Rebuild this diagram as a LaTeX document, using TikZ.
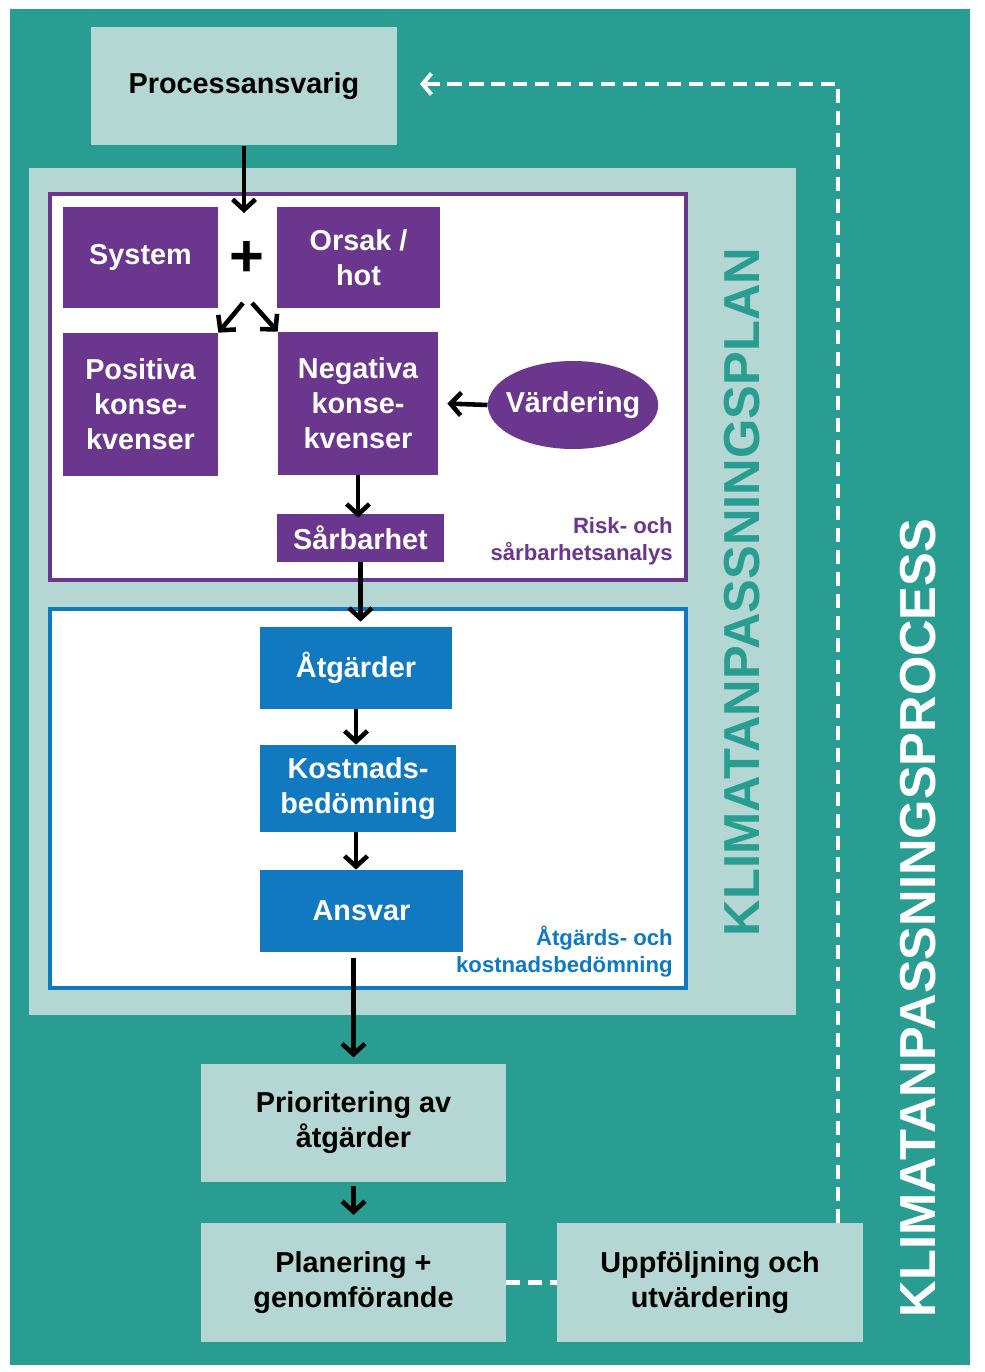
\documentclass[tikz,border=0pt]{standalone}
\usepackage{fontspec}
\setmainfont{Liberation Sans}
\usetikzlibrary{arrows.meta,shapes.geometric,positioning}
\definecolor{tealD}{RGB}{41,157,145}
\definecolor{tealL}{RGB}{180,215,212}
\definecolor{lila}{RGB}{107,54,141}
\definecolor{blaa}{RGB}{16,121,191}

\begin{document}
\begin{tikzpicture}[x=0.02cm, y=-0.02cm,
  every node/.style={align=center, inner sep=0pt, font=\fontsize{16.4pt}{20pt}\selectfont\bfseries},
  lightbox/.style={fill=tealL, text=black, minimum width=6.1cm, minimum height=2.37cm},
  lilabox/.style={fill=lila, text=white},
  blabox/.style={fill=blaa, text=white},
  note/.style={align=right, anchor=east, font=\fontsize{12.6pt}{15.4pt}\selectfont\bfseries},
  bigtitle/.style={rotate=90, font=\fontsize{28.8pt}{30pt}\selectfont\bfseries},
  flow/.style={line width=2.6pt, -{Straight Barb[length=6pt,width=13pt]}},
  loopline/.style={white, line width=2.3pt, dash pattern=on 8pt off 4.5pt}]
\useasboundingbox (0,0) rectangle (984,1372);
\fill[tealD] (10,9) rectangle (970,1365);
\fill[tealL] (29,168) rectangle (796,1015);
\draw[lila, line width=2.3pt, fill=white] (50,194) rectangle (686,580);
\draw[blaa, line width=2.3pt, fill=white] (50,609) rectangle (686,988);

\node[lightbox, minimum width=6.12cm] (proc) at (244,86) {Processansvarig};

\node[lilabox, minimum width=3.1cm, minimum height=2.02cm] (sys) at (140.5,257.5) {System};
\node[lilabox, minimum width=3.26cm, minimum height=2.02cm] (orsak) at (358.5,257.5) {Orsak /\\hot};
\node[font=\fontsize{34pt}{36pt}\selectfont\bfseries] (plus) at (247,259) {+};
\coordinate (plustop) at (244,213);
\coordinate (plusl) at (243,303);
\coordinate (plusr) at (252,303);
\node[lilabox, minimum width=3.1cm, minimum height=2.86cm] (pos) at (140.5,404.5) {Positiva\\konse-\\kvenser};
\node[lilabox, minimum width=3.2cm, minimum height=2.86cm] (neg) at (358,403.5) {Negativa\\konse-\\kvenser};
\node[lilabox, ellipse, inner xsep=-4pt, minimum width=3.36cm, minimum height=1.76cm] (vard) at (573,405) {Värdering};
\node[lilabox, minimum width=3.34cm, minimum height=0.96cm] (sarb) at (360.5,538) {Sårbarhet};
\node[note, text=lila] (risk) at (673,541) {Risk- och\\sårbarhetsanalys};

\node[blabox, minimum width=3.84cm, minimum height=1.64cm] (atg) at (356,668) {Åtgärder};
\node[blabox, minimum width=3.92cm, minimum height=1.74cm] (kost) at (358,788.5) {Kostnads-\\bedömning};
\node[blabox, minimum width=4.06cm, minimum height=1.64cm] (ansv) at (361.5,911) {Ansvar};
\node[note, text=blaa] (kostlbl) at (673,952) {Åtgärds- och\\kostnadsbedömning};

\node[bigtitle, text=tealD] (plan) at (742,592) {KLIMATANPASSNINGSPLAN};
\node[bigtitle, text=white] (process) at (918,918) {KLIMATANPASSNINGSPROCESS};

\node[lightbox] (prio) at (353.5,1123) {Prioritering av\\åtgärder};
\node[lightbox] (genf) at (353.5,1282.5) {Planering +\\genomförande};
\node[lightbox, minimum width=6.12cm] (uppf) at (710,1282.5) {Uppföljning och\\utvärdering};
\coordinate (fbcorner) at (838,84);
\coordinate (fbtip) at (420,84);

\draw[flow] (proc.south -| plustop) -- (plustop);
\draw[flow] (plusl) -- (pos.north east);
\draw[flow] (plusr) -- (neg.north west);
\draw[flow] (neg.south) -- ([yshift=-0.08cm]sarb.north -| neg.south);
\draw[flow] (vard.west) -- ([xshift=0.18cm]neg.east);
\draw[flow] (sarb.south) -- ([yshift=0.1cm]atg.north -| sarb.south);
\draw[flow] (atg.south) -- (kost.north -| atg.south);
\draw[flow] (kost.south -| atg.south) -- (ansv.north -| atg.south);
\draw[flow] ([yshift=-0.12cm]ansv.south -| prio.north) -- ([yshift=0.12cm]prio.north);
\draw[flow] ([yshift=-0.06cm]prio.south) -- ([yshift=0.16cm]genf.north);

\draw[loopline] (genf.east) -- (uppf.west);
\draw[loopline, -{Straight Barb[length=5pt,width=12pt]}] (uppf.north -| fbcorner) -- (fbcorner) -- (fbtip);
\end{tikzpicture}
\end{document}
